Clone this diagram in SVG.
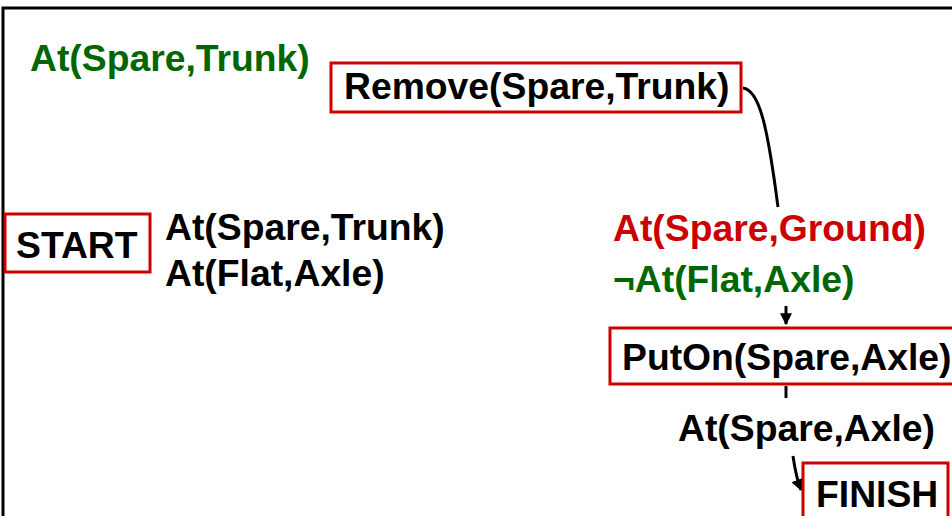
<svg xmlns="http://www.w3.org/2000/svg" width="952" height="516" viewBox="0 0 952 516">
<style>
text{font-family:"Liberation Sans",Arial,Helvetica,sans-serif;font-weight:bold;font-size:37.3px}
.k{fill:#000}
.g{fill:#006600}
.r{fill:#cc0000}
.box{fill:#fff;stroke:#cc0000;stroke-width:3}
.c{fill:none;stroke:#000;stroke-width:3}
</style>
<defs>
<marker id="ah" viewBox="0 0 10 10" refX="9" refY="5" markerWidth="4" markerHeight="4" orient="auto" markerUnits="strokeWidth">
<path d="M0,0 L10,5 L0,10 z" fill="#000"/>
</marker>
</defs>
<rect width="952" height="516" fill="#fff"/>
<path d="M3,516 L3,8 L952,8" fill="none" stroke="#000" stroke-width="3"/>
<g id="connectors">
<path class="c" d="M743,88 C760,90 768,130 778,207"/>
<path class="c" d="M786,306 L786,324" marker-end="url(#ah)"/>
<path class="c" d="M786,386 L786,398"/>
<path class="c" d="M793,456 C795,470 797,480 801,490" marker-end="url(#ah)"/>
</g>
<g id="precond-remove">
<text class="g" x="30" y="71">At(Spare,Trunk)</text>
</g>
<g id="remove">
<rect class="box" x="331" y="63" width="410" height="49"/>
<text class="k" x="344" y="99">Remove(Spare,Trunk)</text>
</g>
<g id="start">
<rect class="box" x="5" y="214" width="145" height="58"/>
<text class="k" x="16" y="258">START</text>
</g>
<g id="start-effects">
<text class="k" x="165" y="240">At(Spare,Trunk)</text>
<text class="k" x="165" y="286">At(Flat,Axle)</text>
</g>
<g id="precond-puton">
<text class="r" x="613" y="241">At(Spare,Ground)</text>
<text class="g" x="613" y="292">¬At(Flat,Axle)</text>
</g>
<g id="puton">
<rect class="box" x="610" y="328" width="350" height="56"/>
<text class="k" x="622" y="370">PutOn(Spare,Axle)</text>
</g>
<g id="puton-effect">
<text class="k" x="678" y="441">At(Spare,Axle)</text>
</g>
<g id="finish">
<rect class="box" x="803" y="463" width="145" height="60"/>
<text class="k" x="816" y="507">FINISH</text>
</g>
</svg>
